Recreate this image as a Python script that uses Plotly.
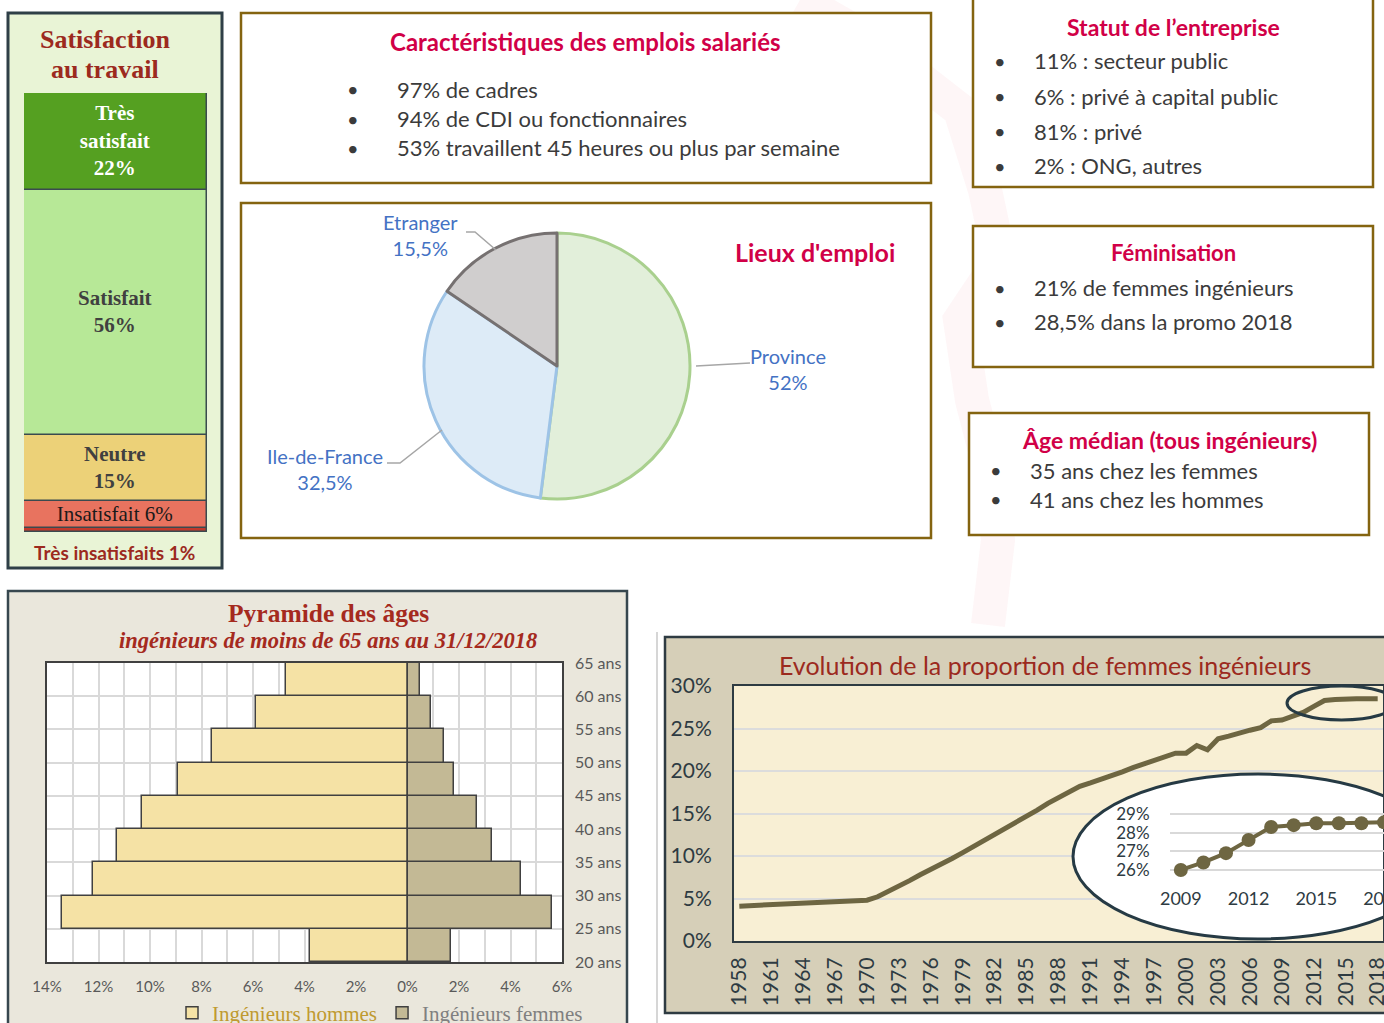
"""Infographic: ingénieurs - emplois, satisfaction, pyramide des âges, féminisation."""
import plotly.graph_objects as go

W, H = 1384, 1023
SANS = "Lato"
SERIF = "Liberation Serif"
CRIMSON = "#d10047"
DARKRED = "#9c2a1e"
TEXT = "#3b3b3b"
GOLD = "#846410"
SLATE = "#2e3b42"
OLIVE = "#6e6642"

# ---- data ----
sat_labels = ["Très insatisfaits", "Insatisfait", "Neutre", "Satisfait", "Très satisfait"]
sat_values = [1, 6, 15, 56, 22]

lieux = ["Province", "Ile-de-France", "Etranger"]
lieux_pct = [52, 32.5, 15.5]

age_start = [20, 25, 30, 35, 40, 45, 50, 55, 60]
men_pct = [3.8, 13.4, 12.2, 11.3, 10.3, 8.9, 7.6, 5.9, 4.7]
women_pct = [1.7, 5.6, 4.4, 3.3, 2.7, 1.8, 1.4, 0.9, 0.5]

years = list(range(1958, 2019))
women_share = [
    4.1, 4.15, 4.2, 4.25, 4.3, 4.35, 4.4, 4.45, 4.5, 4.55, 4.6, 4.65,   # 1958-1969
    4.8, 5.2, 5.8, 6.5, 7.1, 7.8, 8.4, 9.1, 9.7, 10.4,                  # 1970-1979
    11.1, 11.8, 12.5, 13.2, 13.9, 14.7, 15.4, 16.2, 16.9, 17.6,         # 1980-1989
    18.2, 18.6, 19.0, 19.5, 19.9, 20.4, 20.8, 21.2, 21.7, 22.1,         # 1990-1999
    22.1, 23.0, 22.5, 23.8, 24.1, 24.5, 24.8, 25.1, 25.9, 26.0,         # 2000-2009
    26.4, 26.9, 27.6, 28.3, 28.4, 28.5, 28.5, 28.5, 28.5,               # 2010-2018
]
zoom_years = list(range(2009, 2019))
zoom_share = [26.0, 26.4, 26.9, 27.6, 28.3, 28.4, 28.5, 28.5, 28.5, 28.55]
zoom_ticks = [26, 27, 28, 29]

emplois_title = "Caractéristiques des emplois salariés"
emplois_items = ["97% de cadres", "94% de CDI ou fonctionnaires",
                 "53% travaillent 45 heures ou plus par semaine"]
statut_title = "Statut de l’entreprise"
statut_items = ["11% : secteur public", "6% : privé à capital public",
                "81% : privé", "2% : ONG, autres"]
femin_title = "Féminisation"
femin_items = ["21% de femmes ingénieurs", "28,5% dans la promo 2018"]
age_title = "Âge médian (tous ingénieurs)"
age_items = ["35 ans chez les femmes", "41 ans chez les hommes"]


def fx(x):
    return x / W


def fy(y):
    return 1 - y / H


def rect(x0, y0, x1, y1, fill, line, width, layer="below"):
    return dict(type="rect", xref="paper", yref="paper", x0=fx(x0), x1=fx(x1),
                y0=fy(y1), y1=fy(y0), fillcolor=fill,
                line=dict(color=line, width=width), layer=layer)


def path(points, color, width, layer="above"):
    d = "M " + " L ".join(f"{fx(x):.5f},{fy(y):.5f}" for x, y in points)
    return dict(type="path", xref="paper", yref="paper", path=d,
                line=dict(color=color, width=width), layer=layer)


def note(x, y, text, size, color, family=SANS, xanchor="center"):
    return dict(x=fx(x), y=fy(y), xref="paper", yref="paper", text=text,
                showarrow=False, xanchor=xanchor, yanchor="middle",
                font=dict(family=family, size=size, color=color))


fig = go.Figure()

# ---- satisfaction stacked bar ----
sat_colors = ["#c0392b", "#e8735f", "#ecd178", "#b7e897", "#55a021"]
sat_text = ["", "Insatisfait {v}%", "<b>Neutre<br>{v}%</b>", "<b>Satisfait<br>{v}%</b>",
            "<b>Très<br>satisfait<br>{v}%</b>"]
sat_text_col = ["#000000", "#1a1a1a", "#404040", "#404040", "#ffffff"]
for lab, v, c, t, tc in zip(sat_labels, sat_values, sat_colors, sat_text, sat_text_col):
    fig.add_trace(go.Bar(
        x=[0], y=[v], width=1, name=lab, marker=dict(color=c, line=dict(color="#3a4a4f", width=1.5)),
        text=[t.format(v=v)], textposition="inside", insidetextanchor="middle", textangle=0,
        constraintext="none", textfont=dict(family=SERIF, size=21, color=tc),
        xaxis="x", yaxis="y", showlegend=False, hoverinfo="name+y"))

# ---- pie ----
fig.add_trace(go.Pie(
    labels=lieux, values=lieux_pct, sort=False, direction="clockwise", rotation=0,
    marker=dict(colors=["#e2efda", "#ddebf7", "#d0cece"],
                line=dict(color=["#a9d08e", "#9dc3e6", "#767171"], width=3)),
    textinfo="none", showlegend=False,
    domain=dict(x=[fx(424), fx(690)], y=[fy(499), fy(233)])))

# ---- pyramide ----
mid = [a + 2.5 for a in age_start]
fig.add_trace(go.Bar(
    y=mid, x=[-m for m in men_pct], width=5, orientation="h",
    name='<span style="color:#bf9a30">Ingénieurs hommes</span>',
    marker=dict(color="#f5e2a5", line=dict(color="#404040", width=1.5)),
    customdata=men_pct, hovertemplate="%{customdata}%<extra></extra>",
    xaxis="x2", yaxis="y2", legend="legend"))
fig.add_trace(go.Bar(
    y=mid, x=women_pct, width=5, orientation="h",
    name='<span style="color:#808080">Ingénieurs femmes</span>',
    marker=dict(color="#c3b995", line=dict(color="#404040", width=1.5)),
    xaxis="x2", yaxis="y2", legend="legend"))

# ---- evolution ----
fig.add_trace(go.Scatter(
    x=years, y=women_share, mode="lines", line=dict(color=OLIVE, width=5),
    xaxis="x3", yaxis="y3", showlegend=False))
fig.add_trace(go.Scatter(
    x=zoom_years, y=zoom_share, mode="lines+markers", line=dict(color=OLIVE, width=4),
    marker=dict(color=OLIVE, size=14), xaxis="x4", yaxis="y4", showlegend=False))

# ---- shapes ----
shapes = []
# faint watermark ribbon
wm = [(800, 0), (870, 40), (960, 110), (985, 190), (1000, 260), (960, 320), (972, 400),
      (990, 470), (998, 540), (988, 625)]
shapes.append(dict(type="path", xref="paper", yref="paper", layer="below",
                   path="M " + " L ".join(f"{fx(x):.5f},{fy(y):.5f}" for x, y in wm),
                   line=dict(color="rgba(225,40,60,0.045)", width=34)))
shapes.append(rect(8, 13, 222, 568, "#e9f4d6", "#2f3f47", 3))
shapes.append(rect(241, 13, 931, 183, "white", GOLD, 2.5))
shapes.append(rect(241, 203, 931, 538, "white", GOLD, 2.5))
shapes.append(rect(973, -3, 1373, 187, "white", GOLD, 2.5))
shapes.append(rect(973, 226, 1373, 367, "white", GOLD, 2.5))
shapes.append(rect(969, 413, 1369, 535, "white", GOLD, 2.5))
shapes.append(rect(8, 591, 627, 1035, "#eae7dc", "#37474f", 2.5))
shapes.append(dict(type="line", xref="paper", yref="paper", x0=fx(657), x1=fx(657),
                   y0=fy(1023), y1=fy(632), line=dict(color="#c8c8c8", width=1.5), layer="below"))
shapes.append(rect(665, 637, 1400, 1013, "#d6cfb8", "#2e3b42", 2.5))
# plot backgrounds
shapes.append(dict(type="rect", xref="x2 domain", yref="y2 domain", x0=0, x1=1, y0=0, y1=1,
                   fillcolor="white", line=dict(width=0), layer="below"))
shapes.append(dict(type="rect", xref="x3 domain", yref="y3 domain", x0=0, x1=1, y0=0, y1=1,
                   fillcolor="#f8efd4", line=dict(width=0), layer="below"))


def lx(p):
    return 1957.5 + (p - 734) / (1383 - 734) * 61


def ly(p):
    return (941 - p) / (941 - 686) * 30


shapes.append(dict(type="circle", xref="x3", yref="y3", x0=lx(1073), x1=lx(1443),
                   y0=ly(939), y1=ly(774), fillcolor="white",
                   line=dict(color="#263a44", width=3), layer="between"))
shapes.append(dict(type="circle", xref="paper", yref="paper", x0=fx(1287), x1=fx(1396),
                   y0=fy(720), y1=fy(686), line=dict(color="#263a44", width=3), layer="above"))
# pie leader lines
shapes.append(path([(466, 232), (475, 232), (496, 250)], "#a6a6a6", 1.5))
shapes.append(path([(696, 366), (750, 363)], "#a6a6a6", 1.5))
shapes.append(path([(387, 463), (400, 463), (442, 430)], "#a6a6a6", 1.5))

# ---- annotations ----
ann = []
ann.append(note(105, 40, "<b>Satisfaction</b>", 26, DARKRED, SERIF))
ann.append(note(105, 70, "<b>au travail</b>", 26, DARKRED, SERIF))
ann.append(note(115, 552, "<b>Très insatisfaits 1%</b>", 19, DARKRED))

ann.append(note(585, 42, f"<b>{emplois_title}</b>", 24, CRIMSON))
for i, t in enumerate(emplois_items):
    y = 89 + i * 29.5
    ann.append(note(353, y, "•", 20, TEXT))
    ann.append(note(395, y, t, 22, TEXT, xanchor="left"))

ann.append(note(815, 252, "<b>Lieux d'emploi</b>", 25, CRIMSON))
fmt = [f"{v:g}".replace(".", ",") + "%" for v in lieux_pct]
ann.append(note(788, 369, f"{lieux[0]}<br>{fmt[0]}", 20, "#4472c4"))
ann.append(note(325, 469, f"{lieux[1]}<br>{fmt[1]}", 20, "#4472c4"))
ann.append(note(420, 235, f"{lieux[2]}<br>{fmt[2]}", 20, "#4472c4"))

ann.append(note(1173, 27, f"<b>{statut_title}</b>", 23, CRIMSON))
for i, t in enumerate(statut_items):
    y = 61 + i * 35
    ann.append(note(1000, y, "•", 20, TEXT))
    ann.append(note(1032, y, t, 22, TEXT, xanchor="left"))
ann.append(note(1173, 252, f"<b>{femin_title}</b>", 22, CRIMSON))
for i, t in enumerate(femin_items):
    y = 288 + i * 34
    ann.append(note(1000, y, "•", 20, TEXT))
    ann.append(note(1032, y, t, 22, TEXT, xanchor="left"))
ann.append(note(1169, 440, f"<b>{age_title}</b>", 23, CRIMSON))
for i, t in enumerate(age_items):
    y = 470 + i * 29
    ann.append(note(996, y, "•", 20, TEXT))
    ann.append(note(1028, y, t, 22, TEXT, xanchor="left"))

ann.append(note(328, 613, "<b>Pyramide des âges</b>", 25.5, "#a52a1e", SERIF))
ann.append(note(328, 640, "<b><i>ingénieurs de moins de 65 ans au 31/12/2018</i></b>", 22.5,
                "#a52a1e", SERIF))
ann.append(note(1045, 665, "Evolution de la proportion de femmes ingénieurs", 25, DARKRED))

pyr_ticks = list(range(-14, 7))
pyr_text = [f"{abs(v)}%" if v % 2 == 0 else "" for v in pyr_ticks]
ages_ticks = list(range(20, 66, 5))

fig.update_layout(
    width=W, height=H, margin=dict(l=0, r=0, t=0, b=0, autoexpand=False),
    paper_bgcolor="white", plot_bgcolor="rgba(0,0,0,0)",
    barmode="relative", bargap=0,
    font=dict(family=SANS, color=TEXT),
    shapes=shapes, annotations=ann,
    xaxis=dict(domain=[fx(24), fx(207)], range=[-0.5, 0.5], visible=False, anchor="y"),
    yaxis=dict(domain=[fy(532), fy(93)], range=[0, 100], visible=False, anchor="x"),
    xaxis2=dict(domain=[fx(47), fx(562)], range=[-14, 6], anchor="y2",
                tickmode="array", tickvals=pyr_ticks, ticktext=pyr_text,
                showgrid=True, gridcolor="#d9d9d9", gridwidth=1.5, zeroline=False,
                showline=True, mirror=True, linecolor="#404040", linewidth=1.5,
                ticks="outside", ticklen=10, tickcolor="rgba(0,0,0,0)",
                tickfont=dict(family=SANS, size=15, color="#595959")),
    yaxis2=dict(domain=[fy(962), fy(663)], range=[20, 65], anchor="x2", side="right",
                tickmode="array", tickvals=ages_ticks, ticktext=[f"{a} ans" for a in ages_ticks],
                showgrid=True, gridcolor="#d9d9d9", gridwidth=1.5, zeroline=False,
                showline=True, mirror=True, linecolor="#404040", linewidth=1.5,
                ticks="outside", ticklen=8, tickcolor="rgba(0,0,0,0)",
                tickfont=dict(family=SANS, size=16, color="#595959")),
    xaxis3=dict(domain=[fx(734), fx(1383)], range=[1957.5, 2018.5], anchor="y3",
                tickmode="linear", tick0=1958, dtick=3, tickangle=-90,
                showgrid=False, zeroline=False, ticklabeloverflow="allow",
                showline=True, mirror=True, linecolor=SLATE, linewidth=2,
                ticks="outside", ticklen=6, tickcolor="rgba(0,0,0,0)",
                tickfont=dict(family=SANS, size=21, color=SLATE)),
    yaxis3=dict(domain=[fy(941), fy(686)], range=[0, 30], anchor="x3",
                tickmode="linear", tick0=0, dtick=5, ticksuffix="%",
                showgrid=True, gridcolor="#dcdcdc", gridwidth=2, zeroline=False,
                showline=True, mirror=True, linecolor=SLATE, linewidth=2,
                ticks="outside", ticklen=16, tickcolor="rgba(0,0,0,0)",
                tickfont=dict(family=SANS, size=21, color=SLATE)),
    xaxis4=dict(domain=[fx(1170), 1], range=[2008.52, 2018], anchor="y4",
                tickmode="array", tickvals=[2009, 2012, 2015, 2018],
                showgrid=False, zeroline=False, showline=False, ticklabeloverflow="allow",
                ticks="outside", ticklen=2, tickcolor="rgba(0,0,0,0)",
                tickfont=dict(family=SANS, size=18, color=SLATE)),
    yaxis4=dict(domain=[fy(880), fy(805)], range=[25.46, 29.48], anchor="x4",
                tickmode="array", tickvals=zoom_ticks, ticktext=[f"{t}%" for t in zoom_ticks],
                showgrid=True, gridcolor="#d9d9d9", gridwidth=2, zeroline=False, showline=False,
                ticks="outside", ticklen=16, tickcolor="rgba(0,0,0,0)",
                tickfont=dict(family=SANS, size=17, color=SLATE)),
    legend=dict(orientation="h", x=fx(380), y=fy(1013), xanchor="center", yanchor="middle",
                bgcolor="rgba(0,0,0,0)", font=dict(family=SERIF, size=21),
                itemwidth=30, tracegroupgap=0),
)

# page body without its default margin so the figure starts at the window's corner
fig.write_html("out.html", config={"displayModeBar": False},
               post_script="document.body.style.margin='0';")
